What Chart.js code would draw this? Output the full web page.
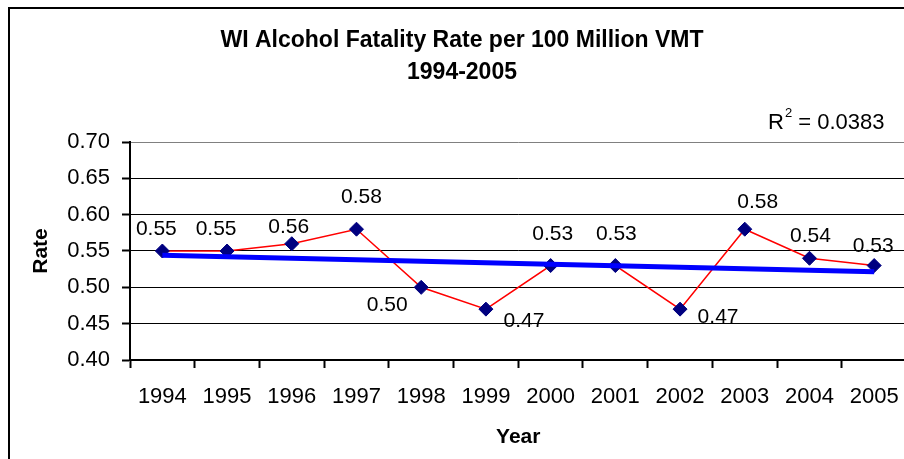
<!DOCTYPE html>
<html>
<head>
<meta charset="utf-8">
<script src="https://cdn.jsdelivr.net/npm/chart.js@4/dist/chart.umd.min.js"></script>
<style>
  html, body { margin: 0; padding: 0; background: #fff; overflow: hidden; }
  canvas { display: block; }
</style>
</head>
<body>
<canvas id="rateChart" width="915" height="459"></canvas>
<script>
const years = ['1994', '1995', '1996', '1997', '1998', '1999', '2000', '2001', '2002', '2003', '2004', '2005']
const rates = [0.55, 0.55, 0.56, 0.58, 0.50, 0.47, 0.53, 0.53, 0.47, 0.58, 0.54, 0.53]
// linear trendline, only the two ends
const trend = [0.544, null, null, null, null, null, null, null, null, null, null, 0.5215]
const titleLines = ['WI Alcohol Fatality Rate per 100 Million VMT', '1994-2005']
const rSquared = '0.0383'

const FONT = "'Liberation Sans', Arial, sans-serif"

// where each value label sits relative to its marker
const labelOffsets = [
  [-6, -22], [-11, -22], [-3, -17], [5, -32], [-34, 18], [38, 12],
  [2, -31], [1, -31], [38, 8], [13, -27], [1, -22], [-1, -19],
]

const decorPlugin = {
  id: 'decor',
  beforeDraw(chart) {
    const ctx = chart.ctx
    ctx.save()
    ctx.fillStyle = '#fff'
    ctx.fillRect(0, 0, chart.width, chart.height)
    // outer frame (cut off at right and bottom)
    ctx.strokeStyle = '#000'
    ctx.lineWidth = 2
    ctx.beginPath()
    ctx.moveTo(9, chart.height + 5)
    ctx.lineTo(9, 8)
    ctx.lineTo(chart.width + 5, 8)
    ctx.stroke()
    // title
    ctx.fillStyle = '#000'
    ctx.textAlign = 'center'
    ctx.textBaseline = 'middle'
    ctx.font = 'bold 23px ' + FONT
    ctx.fillText(titleLines[0], 462, 41)
    ctx.fillText(titleLines[1], 462, 73)
    // R squared
    ctx.font = '22px ' + FONT
    ctx.textAlign = 'left'
    ctx.fillText('R', 768, 123)
    const rw = ctx.measureText('R').width
    ctx.font = '13px ' + FONT
    ctx.fillText('2', 768 + rw + 1, 113)
    const sw = ctx.measureText('2').width
    ctx.font = '22px ' + FONT
    ctx.fillText(' = ' + rSquared, 768 + rw + sw + 1, 123)
    ctx.restore()
  },
  afterDatasetsDraw(chart) {
    const ctx = chart.ctx
    const meta = chart.getDatasetMeta(1)
    ctx.save()
    ctx.font = '21px ' + FONT
    ctx.fillStyle = '#000'
    ctx.textAlign = 'center'
    ctx.textBaseline = 'middle'
    meta.data.forEach((pt, i) => {
      const [dx, dy] = labelOffsets[i]
      ctx.fillText(rates[i].toFixed(2), pt.x + dx, pt.y + dy)
    })
    ctx.restore()
  },
}

new Chart(document.getElementById('rateChart'), {
  type: 'line',
  data: {
    labels: years,
    datasets: [
      {
        label: 'Trend',
        data: trend,
        borderColor: '#0000ff',
        borderWidth: 5,
        pointRadius: 0,
        spanGaps: true,
        tension: 0,
      },
      {
        label: 'Rate',
        data: rates,
        borderColor: '#ff0000',
        borderWidth: 1.5,
        pointStyle: 'rectRot',
        pointRadius: 7,
        pointBackgroundColor: '#000080',
        pointBorderColor: '#000080',
        pointBorderWidth: 1,
        tension: 0,
      },
    ],
  },
  options: {
    responsive: false,
    animation: false,
    layout: { padding: { top: 142, left: 0, right: 0, bottom: 0 } },
    plugins: { legend: { display: false }, tooltip: { enabled: false } },
    scales: {
      x: {
        offset: true,
        grid: {
          offset: true,
          drawOnChartArea: false,
          color: '#000',
          tickLength: 8,
          tickWidth: 2,
        },
        border: { color: '#000', width: 2 },
        ticks: { color: '#000', font: { family: FONT, size: 22 }, padding: 16, maxRotation: 0 },
        title: {
          display: true,
          text: 'Year',
          color: '#000',
          font: { family: FONT, size: 21, weight: 'bold' },
          padding: { top: 0, bottom: 9 },
        },
        afterFit(scale) { scale.height = 99 },
      },
      y: {
        min: 0.4,
        max: 0.7,
        grid: {
          color: (c) => (c.tick && c.tick.value >= 0.699 ? '#808080' : '#000'),
          lineWidth: 1,
          tickLength: 8,
          tickWidth: 2,
          tickColor: '#000',
        },
        border: { color: '#000', width: 2 },
        ticks: {
          stepSize: 0.05,
          color: '#000',
          font: { family: FONT, size: 22 },
          padding: 12,
          callback: (v) => v.toFixed(2),
        },
        title: {
          display: true,
          text: 'Rate',
          color: '#000',
          font: { family: FONT, size: 21, weight: 'bold' },
          padding: { top: 29, bottom: 0 },
        },
        afterFit(scale) { scale.width = 130 },
      },
    },
  },
  plugins: [decorPlugin],
})
</script>
</body>
</html>
